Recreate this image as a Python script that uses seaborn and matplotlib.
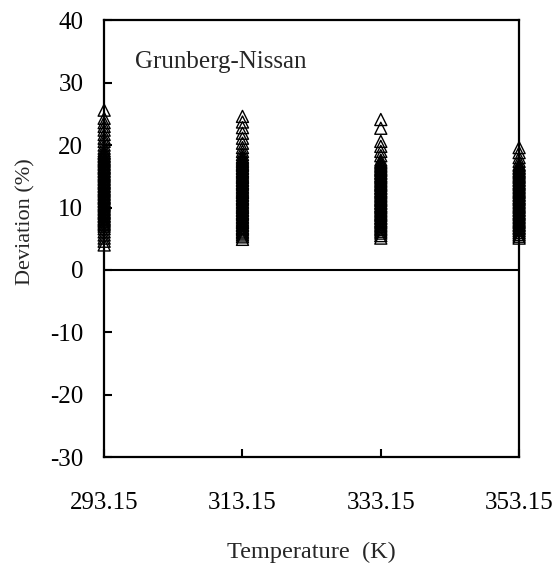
import matplotlib
matplotlib.use("Agg")
import matplotlib.pyplot as plt
import seaborn as sns
import pandas as pd

temperatures = [293.15, 313.15, 333.15, 353.15]

dev_293 = [25.6, 24.3, 23.6, 23.0, 22.4, 21.7, 21.1, 20.6, 20.0, 19.5,
           19.1, 18.8, 18.6, 18.3, 18.1, 17.8, 17.6, 17.4, 17.1, 16.9, 16.6, 16.4,
           16.2, 15.9, 15.7, 15.4, 15.2, 15.0, 14.7, 14.5, 14.2, 14.0, 13.8, 13.5,
           13.3, 13.0, 12.8, 12.6, 12.3, 12.1, 11.8, 11.6, 11.4, 11.1, 10.9, 10.6,
           10.4, 10.2, 9.9, 9.7, 9.4, 9.2, 9.0, 8.7, 8.5, 8.2, 8.0, 7.8, 7.5, 7.3,
           7.0, 6.6, 6.1, 5.6, 5.1, 4.6, 4.0]
dev_313 = [24.6, 23.7, 22.8, 21.9, 21.1, 20.3, 19.6, 19.0, 18.5,
           18.1, 17.9, 17.6, 17.4, 17.1, 16.9, 16.7, 16.4, 16.2, 15.9, 15.7, 15.5,
           15.2, 15.0, 14.8, 14.5, 14.3, 14.0, 13.8, 13.6, 13.3, 13.1, 12.8, 12.6,
           12.4, 12.1, 11.9, 11.6, 11.4, 11.2, 10.9, 10.7, 10.4, 10.2, 10.0, 9.7,
           9.5, 9.2, 9.0, 8.8, 8.5, 8.3, 8.0, 7.8, 7.6, 7.3, 7.1, 6.8, 6.6, 6.4,
           6.1, 5.9, 5.6, 5.3, 4.9]
dev_333 = [24.1, 22.7, 20.6, 19.8, 19.0, 18.3,
           17.6, 17.3, 17.1, 16.8, 16.6, 16.3, 16.1, 15.9, 15.6, 15.4, 15.1, 14.9,
           14.7, 14.4, 14.2, 13.9, 13.7, 13.5, 13.2, 13.0, 12.7, 12.5, 12.3, 12.0,
           11.8, 11.5, 11.3, 11.1, 10.8, 10.6, 10.3, 10.1, 9.9, 9.6, 9.4, 9.1, 8.9,
           8.7, 8.4, 8.2, 7.9, 7.7, 7.5, 7.2, 7.0, 6.7, 6.5, 6.2, 5.9, 5.5, 5.1]
dev_353 = [19.6, 18.8, 18.0, 17.4,
           16.9, 16.7, 16.4, 16.2, 15.9, 15.7, 15.5, 15.2, 15.0, 14.8, 14.5, 14.3,
           14.0, 13.8, 13.6, 13.3, 13.1, 12.8, 12.6, 12.4, 12.1, 11.9, 11.6, 11.4,
           11.2, 10.9, 10.7, 10.4, 10.2, 10.0, 9.7, 9.5, 9.2, 9.0, 8.8, 8.5, 8.3,
           8.0, 7.8, 7.6, 7.3, 7.1, 6.8, 6.6, 6.3, 6.0, 5.7, 5.4, 5.1]

rows = []
for t, devs in zip(temperatures, [dev_293, dev_313, dev_333, dev_353]):
    rows += [(t, d) for d in devs]
df = pd.DataFrame(rows, columns=["Temperature", "Deviation"])

sns.set_theme(style="white", rc={
    "xtick.direction": "in", "ytick.direction": "in",
    "xtick.bottom": True, "ytick.left": True,
})
plt.rcParams["font.family"] = ["Liberation Serif", "DejaVu Serif"]
plt.rcParams["axes.unicode_minus"] = False

fig = plt.figure(figsize=(5.57, 5.63), dpi=100)
ax = fig.add_axes([0.187, 0.188, 0.745, 0.776])

sns.scatterplot(data=df, x="Temperature", y="Deviation", ax=ax, marker="^",
                s=75, facecolors="none", edgecolor="black", linewidth=1.0,
                clip_on=False, zorder=3)

ax.axhline(0, color="black", linewidth=1.5)
ax.set_xlim(293.15, 353.15)
ax.set_ylim(-30, 40)
ax.set_xticks(temperatures)
ax.set_xticklabels([f"{t:.2f}" for t in temperatures])
ax.set_yticks(range(-30, 41, 10))

for s in ax.spines.values():
    s.set_color("black")
    s.set_linewidth(1.6)
ax.tick_params(axis="x", which="major", direction="in", bottom=True, top=False,
               length=6, width=1.5, labelsize=18, colors="black", pad=25)
ax.tick_params(axis="y", which="major", direction="in", left=True, right=False,
               length=6, width=1.5, labelsize=18, colors="black", pad=15)

ax.set_xlabel("Temperature  (K)", fontsize=17.5, labelpad=20)
ax.set_ylabel("Deviation (%)", fontsize=16, labelpad=17)
ax.yaxis.set_label_coords(-0.165, 0.54)
ax.text(297.6, 32.3, "Grunberg-Nissan", fontsize=18)

fig.savefig("out.png", dpi=100)
